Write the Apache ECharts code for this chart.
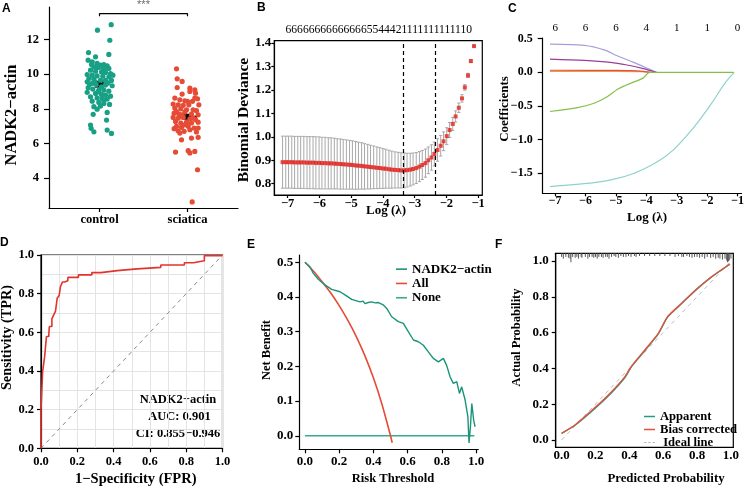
<!DOCTYPE html>
<html><head><meta charset="utf-8">
<script src="https://cdn.jsdelivr.net/npm/echarts@6/dist/echarts.min.js"></script>
<style>html,body{margin:0;padding:0;background:#fff}#c{width:747px;height:487px}</style>
</head><body><div id="c"></div>
<script>
// ---------------- Panel A data ----------------
const groupNames = ['control', 'sciatica'];
const controlValues = [12.86,12.54,11.96,11.25,11.14,11.0,10.81,10.71,10.62,10.56,10.52,10.48,10.42,10.39,10.37,10.33,10.23,10.17,10.13,10.1,10.04,9.98,9.94,9.9,9.88,9.84,9.94,9.75,9.71,9.65,9.64,9.64,9.56,9.46,9.41,9.37,9.33,9.21,9.14,9.08,9.08,9.02,8.95,8.89,8.83,8.79,8.73,8.69,8.63,8.6,8.56,8.44,8.37,8.31,8.25,8.12,8.16,7.98,7.79,7.68,7.35,7.06,6.87,6.77,6.67,6.58,9.41,9.27,9.56,9.5,10.33,10.56,8.98,8.5];
const controlJitter = [0.133,-0.023,0.117,-0.125,0.106,-0.045,-0.129,-0.083,-0.027,0.049,0.011,0.087,-0.064,-0.015,0.068,0.106,-0.102,-0.045,0.023,0.068,0.125,-0.14,-0.083,-0.027,0.038,0.106,0.152,-0.121,-0.064,0.011,0.068,0.136,-0.14,-0.091,-0.038,0.068,0.144,-0.129,-0.076,-0.008,0.049,0.106,-0.14,-0.045,0.023,0.068,0.125,-0.102,-0.027,0.03,0.087,-0.083,-0.008,0.049,0.114,-0.064,0.011,-0.027,0.087,-0.072,0.08,-0.102,-0.095,0.087,-0.064,0.136,-0.114,0.023,-0.053,0.098,0.038,-0.091,-0.015,0.049];
const sciaticaValues = [10.31,9.73,9.58,9.23,9.19,9.1,8.85,9.0,8.9,8.62,8.52,8.46,8.43,8.58,8.27,8.23,8.2,8.23,8.23,8.04,8.0,7.94,7.94,7.89,7.75,7.7,7.81,7.7,7.65,7.5,7.46,7.5,7.42,7.37,7.27,7.18,7.23,7.18,7.23,6.99,6.93,6.99,6.89,6.89,6.73,6.7,6.79,6.66,6.6,6.31,6.35,6.21,5.5,5.58,5.45,5.54,4.48,2.62,7.84,8.43,7.65,7.46,7.08,6.85,8.62];
const sciaticaJitter = [-0.125,-0.117,-0.061,-0.117,0.027,0.083,-0.061,0.027,0.091,-0.144,-0.087,-0.03,0.057,0.114,-0.163,-0.106,-0.049,0.015,0.129,-0.144,-0.076,-0.011,0.064,0.102,-0.152,-0.098,-0.03,0.045,0.121,-0.163,-0.106,-0.049,0.027,0.091,-0.136,-0.076,-0.011,0.045,0.121,-0.125,-0.068,0.008,0.076,0.121,-0.106,-0.038,0.027,0.102,-0.087,0.045,0.121,-0.068,-0.136,0.008,0.027,0.083,0.114,0.053,-0.125,0,-0.068,0.064,-0.03,-0.152,0.083];
const groupMeans = [9.42, 7.54];
const groupSE = [0.14, 0.12];
const aYTicks = [4, 6, 8, 10, 12];
const bracketY = [13.34, 13.5];
const sigLabel = '***';

// ---------------- Panel B data ----------------
const logLambda = [-7.16,-7.06,-6.97,-6.87,-6.78,-6.68,-6.59,-6.49,-6.39,-6.30,-6.20,-6.11,-6.01,-5.92,-5.82,-5.72,-5.63,-5.53,-5.44,-5.34,-5.25,-5.15,-5.05,-4.96,-4.86,-4.77,-4.67,-4.58,-4.48,-4.39,-4.29,-4.19,-4.10,-4.00,-3.91,-3.81,-3.72,-3.62,-3.52,-3.43,-3.33,-3.24,-3.14,-3.05,-2.95,-2.85,-2.76,-2.66,-2.57,-2.47,-2.38,-2.28,-2.18,-2.09,-1.99,-1.90,-1.80,-1.71,-1.61,-1.51,-1.42,-1.32,-1.23,-1.13];
const devMean = [0.892,0.892,0.892,0.892,0.891,0.891,0.891,0.891,0.890,0.890,0.890,0.889,0.889,0.888,0.888,0.887,0.887,0.886,0.885,0.884,0.883,0.882,0.881,0.880,0.878,0.877,0.876,0.874,0.873,0.871,0.870,0.868,0.867,0.865,0.864,0.862,0.860,0.859,0.858,0.857,0.857,0.858,0.860,0.863,0.867,0.873,0.880,0.888,0.900,0.912,0.927,0.944,0.962,0.981,1.003,1.029,1.055,1.087,1.124,1.164,1.211,1.262,1.323,1.387];
const devSE = [0.111,0.111,0.111,0.111,0.111,0.111,0.111,0.111,0.111,0.111,0.111,0.111,0.111,0.110,0.110,0.109,0.109,0.108,0.107,0.107,0.106,0.105,0.104,0.103,0.102,0.100,0.099,0.097,0.095,0.093,0.091,0.089,0.087,0.085,0.083,0.081,0.079,0.077,0.076,0.075,0.074,0.072,0.070,0.068,0.066,0.064,0.062,0.060,0.057,0.054,0.051,0.048,0.044,0.040,0.036,0.032,0.028,0.024,0.020,0.016,0.012,0.009,0.006,0.004];
const lambdaLines = [-3.36, -2.36];
const nzTopLabel = '666666666666665544421111111111110';
const bYTicks = [0.8, 0.9, 1.0, 1.1, 1.2, 1.3, 1.4];
const logTicks = [-7, -6, -5, -4, -3, -2, -1];

// ---------------- Panel C data ----------------
const cTopLabels = ['6', '6', '6', '4', '1', '1', '0'];
const cYTicks = [-1.5, -1.0, -0.5, 0.0, 0.5];
const lavX = [-7.17,-6.04,-5.39,-4.96,-4.42,-3.99,-3.67];
const lavY = [0.42,0.40,0.333,0.245,0.147,0.064,0.0];
const purX = [-7.17,-6.04,-5.18,-4.64,-4.10,-3.67];
const purY = [0.196,0.176,0.147,0.108,0.054,0.0];
const redX = [-7.17,-5.0,-4.5,-4.1,-3.8];
const redY = [0.03,0.028,0.025,0.015,0.0];
const oraX = [-7.17,-5.0,-4.2,-3.9];
const oraY = [0.015,0.014,0.01,0.0];
const grnX = [-7.17,-6.26,-5.72,-5.29,-4.96,-4.69,-4.42,-4.10,-3.89,-1.13];
const grnY = [-0.583,-0.525,-0.461,-0.363,-0.255,-0.196,-0.147,-0.083,0.0,0.0];
const cyaX = [-7.17,-5.72,-4.96,-4.42,-3.99,-3.56,-3.13,-2.70,-2.27,-1.84,-1.41,-1.11];
const cyaY = [-1.70,-1.642,-1.578,-1.505,-1.417,-1.309,-1.162,-0.956,-0.721,-0.451,-0.157,0.0];

// ---------------- Panel D data ----------------
const rocFPR = [0,0,0.009,0.02,0.03,0.043,0.046,0.06,0.07,0.08,0.089,0.1,0.107,0.118,0.13,0.148,0.206,0.28,0.33,0.42,0.53,0.66,0.79,0.84,0.9,1.0];
const rocTPR = [0,0.198,0.397,0.474,0.578,0.59,0.63,0.67,0.69,0.71,0.776,0.79,0.836,0.86,0.867,0.884,0.897,0.909,0.919,0.928,0.936,0.948,0.96,0.97,0.997,1.0];
const rocText = ['NADK2\u2212actin', 'AUC: 0.901', 'CI: 0.855\u22120.946'];
const unitTicks = [0, 0.2, 0.4, 0.6, 0.8, 1.0];

// ---------------- Panel E data ----------------
const eModelThr = [0,0.029,0.049,0.078,0.117,0.156,0.205,0.234,0.273,0.322,0.34,0.351,0.37,0.39,0.41,0.429,0.458,0.478,0.507,0.546,0.575,0.604,0.634,0.663,0.692,0.721,0.75,0.78,0.809,0.828,0.848,0.867,0.887,0.903,0.916,0.936,0.952,0.959,0.967,0.975,0.986,0.994];
const eModelNB = [0.5,0.487,0.468,0.451,0.435,0.422,0.415,0.406,0.393,0.386,0.388,0.381,0.384,0.386,0.383,0.384,0.377,0.367,0.343,0.329,0.324,0.300,0.276,0.271,0.261,0.242,0.223,0.213,0.223,0.203,0.17,0.151,0.156,0.122,0.141,0.103,0.055,-0.021,0.026,0.093,0.045,0.026];
const eAllThr = [0,0.05,0.1,0.15,0.2,0.25,0.3,0.35,0.4,0.45,0.5,0.51];
const eAllNB = [0.5,0.474,0.444,0.412,0.375,0.333,0.286,0.231,0.167,0.091,0.0,-0.02];
const eNoneThr = [0, 0.99];
const eNoneNB = [0, 0];
const eYTicks = [0.0, 0.1, 0.2, 0.3, 0.4, 0.5];
const eLegend = ['NADK2\u2212actin', 'All', 'None'];

// ---------------- Panel F data ----------------
const fPred = [0.0,0.079,0.197,0.295,0.374,0.413,0.492,0.571,0.626,0.709,0.787,0.886,0.994];
const fBias = [0.037,0.084,0.181,0.27,0.354,0.413,0.503,0.596,0.689,0.764,0.834,0.912,0.983];
const fApparent = [0.037,0.082,0.176,0.264,0.348,0.41,0.5,0.593,0.687,0.762,0.833,0.911,0.982];
const fIdealX = [0, 1];
const fIdealY = [0, 1];
const fRugX = [0.0,0.01,0.025,0.04,0.05,0.055,0.065,0.08,0.09,0.10,0.115,0.12,0.14,0.155,0.165,0.18,0.19,0.20,0.21,0.22,0.235,0.245,0.26,0.27,0.28,0.295,0.31,0.32,0.335,0.35,0.365,0.38,0.395,0.41,0.43,0.44,0.46,0.49,0.52,0.55,0.58,0.61,0.64,0.67,0.69,0.71,0.72,0.74,0.755,0.77,0.785,0.80,0.815,0.83,0.845,0.86,0.88,0.895,0.91,0.925,0.935,0.95,0.965,0.975,0.98,0.985,0.99,1.0];
const fRugLen = [0.02,0.03,0.02,0.025,0.03,0.05,0.02,0.025,0.02,0.03,0.02,0.025,0.02,0.03,0.02,0.02,0.025,0.02,0.03,0.02,0.02,0.025,0.02,0.02,0.03,0.02,0.015,0.02,0.025,0.015,0.02,0.02,0.015,0.02,0.015,0.02,0.015,0.015,0.015,0.015,0.015,0.015,0.015,0.02,0.015,0.02,0.02,0.015,0.02,0.025,0.02,0.02,0.025,0.02,0.03,0.02,0.025,0.02,0.03,0.025,0.03,0.035,0.03,0.04,0.05,0.045,0.04,0.03];
const fLegend = ['Apparent', 'Bias corrected', ' Ideal line'];

// ---------------- helpers ----------------
const SERIF = '"Liberation Serif","Times New Roman",serif';
const SANS = '"Liberation Sans",Arial,sans-serif';
const MINUS = '\u2212';
const fmt1 = v => v.toFixed(1).replace('-', MINUS);
const fmtInt = v => String(v).replace('-', MINUS);
const zip = (a, b) => a.map((v, i) => [v, b[i]]);

function vAxis(grid, min, max, ticks, fmt, o) {
  o = o || {};
  return {
    type: 'value', gridIndex: grid, min: min, max: max, position: o.position,
    splitLine: { show: false },
    axisLine: { show: o.line !== false, onZero: false, lineStyle: { color: '#000', width: 1.2 } },
    axisTick: { show: o.tick !== false, customValues: ticks, length: o.tickLen == null ? 4 : o.tickLen, lineStyle: { color: '#000', width: 1.2 } },
    axisLabel: { customValues: ticks, formatter: fmt, margin: o.margin == null ? 6 : o.margin, color: '#000',
      fontFamily: SERIF, fontWeight: o.weight || 'bold', fontSize: o.size || 13 }
  };
}
function txt(x, y, text, size, o) {
  o = o || {};
  const align = o.align || 'center';
  return { type: 'text', x: x, y: y, rotation: o.rot || 0, silent: true,
    style: { text: text, x: 0, y: 0, fill: o.color || '#000',
      font: (o.weight || 'bold') + ' ' + size + 'px ' + (o.family || SERIF),
      align: align, textAlign: align, verticalAlign: o.valign || 'middle', textVerticalAlign: o.valign || 'middle' } };
}
const dAxis = (pos) => ({
  type: 'value', gridIndex: 3, min: 0, max: 1, interval: 0.2, position: pos,
  splitLine: { show: true, lineStyle: { color: '#e4e4e4', width: 1 } },
  minorTick: { show: false, splitNumber: 2 },
  minorSplitLine: { show: true, lineStyle: { color: '#e4e4e4', width: 1 } },
  axisLine: { show: true, onZero: false, lineStyle: { color: '#000', width: 1.2 } },
  axisTick: { show: true, length: 4, lineStyle: { color: '#000', width: 1.2 } },
  axisLabel: { formatter: fmt1, margin: 7, color: '#000', fontFamily: SERIF, fontWeight: 'bold', fontSize: 12.5 }
});

const grids = [
  { left: 49, top: 7, width: 189, height: 201 },
  { left: 274.3, top: 40.7, width: 208, height: 154.3, show: true, borderColor: '#000', borderWidth: 1.2 },
  { left: 542.7, top: 38, width: 202.3, height: 155.3 },
  { left: 41, top: 255, width: 181.5, height: 193.3, show: true, borderColor: '#000', borderWidth: 1.2 },
  { left: 299.3, top: 255, width: 179, height: 194.3 },
  { left: 555.7, top: 253.3, width: 177.6, height: 194, show: true, borderColor: '#000', borderWidth: 1.2 }
];
// x axes: 0 A, 1 B, 2 C bottom, 3 C top, 4 D, 5 E, 6 F
const xAxes = [
  vAxis(0, 0.426, 2.574, [1, 2], v => groupNames[Math.round(v) - 1], { margin: 5, size: 12.6, position: 'bottom' }),
  vAxis(1, -7.42, -0.87, logTicks, fmtInt, { margin: 2, tickLen: 3, size: 12.5, position: 'bottom' }),
  vAxis(2, -7.41, -0.87, logTicks, fmtInt, { margin: 2, tickLen: 3, size: 12, position: 'bottom' }),
  vAxis(2, -7.41, -0.87, logTicks, v => cTopLabels[Math.round(v) + 7], { position: 'top', line: false, tick: false, margin: 4, weight: 'normal', size: 11 }),
  dAxis('bottom'),
  vAxis(4, -0.033, 1.013, unitTicks, fmt1, { margin: 6, size: 13, position: 'bottom' }),
  vAxis(5, -0.035, 1.014, unitTicks, fmt1, { margin: 2, tickLen: 0, size: 13, position: 'bottom' })
];
// y axes: 0 A, 1 B, 2 C, 3 D, 4 E, 5 F
const yAxes = [
  vAxis(0, 2.27, 13.88, aYTicks, v => String(v), { margin: 10, tickLen: 5, size: 12.5, position: 'left' }),
  vAxis(1, 0.752, 1.41, bYTicks, fmt1, { margin: 3, tickLen: 3, size: 13, position: 'left' }),
  vAxis(2, -1.80, 0.51, cYTicks, fmt1, { margin: 10, tickLen: 5, size: 12, position: 'left' }),
  dAxis('left'),
  vAxis(4, -0.039, 0.521, eYTicks, fmt1, { margin: 6, tickLen: 4, size: 13, position: 'left' }),
  vAxis(5, -0.041, 1.043, unitTicks, fmt1, { margin: 7, tickLen: 4, size: 13, position: 'left' })
];

const lineS = (name, xi, yi, data, color, width, extra) => Object.assign({
  type: 'line', name: name, xAxisIndex: xi, yAxisIndex: yi, data: data, symbol: 'none', showSymbol: false,
  lineStyle: { color: color, width: width }, itemStyle: { color: color }, silent: true
}, extra || {});

const series = [
  // ---- A ----
  { type: 'scatter', xAxisIndex: 0, yAxisIndex: 0, symbolSize: 5.2, itemStyle: { color: '#17a085', opacity: 1 },
    data: controlValues.map((v, i) => [1 + controlJitter[i], v]), silent: true },
  { type: 'scatter', xAxisIndex: 0, yAxisIndex: 0, symbolSize: 5.2, itemStyle: { color: '#e64b35', opacity: 1 },
    data: sciaticaValues.map((v, i) => [2 + sciaticaJitter[i], v]), silent: true },
  { type: 'custom', xAxisIndex: 0, yAxisIndex: 0, silent: true,
    data: groupMeans.map((m, i) => [i + 1, m, groupSE[i]]),
    renderItem: function (p, api) {
      const x = api.value(0), m = api.value(1), s = api.value(2);
      const c = api.coord([x, m]), t = api.coord([x, m + s]), b = api.coord([x, m - s]);
      return { type: 'group', children: [
        { type: 'line', shape: { x1: c[0] - 9.5, y1: c[1], x2: c[0] + 9.5, y2: c[1] }, style: { stroke: '#000', lineWidth: 2.2 } },
        { type: 'line', shape: { x1: t[0], y1: t[1], x2: b[0], y2: b[1] }, style: { stroke: '#000', lineWidth: 2 } },
        { type: 'line', shape: { x1: t[0] - 4.5, y1: t[1], x2: t[0] + 4.5, y2: t[1] }, style: { stroke: '#000', lineWidth: 2 } },
        { type: 'line', shape: { x1: b[0] - 4.5, y1: b[1], x2: b[0] + 4.5, y2: b[1] }, style: { stroke: '#000', lineWidth: 2 } }
      ] };
    } },
  lineS('bracket', 0, 0, [[1, bracketY[0]], [1, bracketY[1]], [2, bracketY[1]], [2, bracketY[0]]], '#000', 1.2),
  { type: 'scatter', xAxisIndex: 0, yAxisIndex: 0, symbolSize: 0, silent: true, data: [[1.5, bracketY[1]]],
    label: { show: true, position: 'top', distance: 3, formatter: sigLabel, color: '#444', fontFamily: SANS, fontSize: 11 } },
  // ---- B ----
  { type: 'custom', xAxisIndex: 1, yAxisIndex: 1, silent: true,
    data: logLambda.map((x, i) => [x, devMean[i], devSE[i]]),
    renderItem: function (p, api) {
      const x = api.value(0), m = api.value(1), s = api.value(2);
      const t = api.coord([x, m + s]), b = api.coord([x, m - s]);
      return { type: 'group', children: [
        { type: 'line', shape: { x1: t[0], y1: t[1], x2: b[0], y2: b[1] }, style: { stroke: '#a8a8a8', lineWidth: 1 } },
        { type: 'line', shape: { x1: t[0] - 1.6, y1: t[1], x2: t[0] + 1.6, y2: t[1] }, style: { stroke: '#a8a8a8', lineWidth: 1 } },
        { type: 'line', shape: { x1: b[0] - 1.6, y1: b[1], x2: b[0] + 1.6, y2: b[1] }, style: { stroke: '#a8a8a8', lineWidth: 1 } }
      ] };
    } },
  { type: 'scatter', xAxisIndex: 1, yAxisIndex: 1, symbol: 'rect', symbolSize: 4, silent: true,
    itemStyle: { color: '#e3201b' }, data: zip(logLambda, devMean),
    markLine: { symbol: 'none', silent: true, label: { show: false },
      lineStyle: { type: [4, 3], color: '#000', width: 1.2 },
      data: lambdaLines.map(v => ({ xAxis: v })) } },
  // ---- C ----
  lineS('c1', 2, 2, zip(lavX, lavY), '#a49fdf', 1.2, { smooth: 0.3 }),
  lineS('c2', 2, 2, zip(purX, purY), '#9a3d9c', 1.2, { smooth: 0.3 }),
  lineS('c3', 2, 2, zip(oraX, oraY), '#e8a03c', 1.2, { smooth: 0.3 }),
  lineS('c4', 2, 2, zip(redX, redY), '#e2514c', 1.2, { smooth: 0.3 }),
  lineS('c6', 2, 2, zip(cyaX, cyaY), '#8fd2cc', 1.2, { smooth: 0.3 }),
  lineS('c5', 2, 2, zip(grnX, grnY), '#86c04c', 1.2, { smooth: 0.3 }),
  // ---- D ----
  lineS('diag', 4, 3, [[0, 0], [1, 1]], '#8a8a8a', 1, { lineStyle: { color: '#8a8a8a', width: 1, type: [4, 4] } }),
  lineS('ROC', 4, 3, zip(rocFPR, rocTPR), '#e2342d', 1.6, { step: 'end' }),
  // ---- E ----
  lineS(eLegend[2], 5, 4, zip(eNoneThr, eNoneNB), '#3aa893', 1.6),
  lineS(eLegend[1], 5, 4, zip(eAllThr, eAllNB), '#e64b35', 1.6, { smooth: 0.3 }),
  lineS(eLegend[0], 5, 4, zip(eModelThr, eModelNB), '#1a9479', 1.4),
  // ---- F ----
  { type: 'custom', xAxisIndex: 6, yAxisIndex: 5, silent: true,
    data: fRugX.map((x, i) => [x, fRugLen[i]]),
    renderItem: function (p, api) {
      const x = api.value(0), h = api.value(1);
      const t = api.coord([x, 1.043]), b = api.coord([x, 1.043 - h]);
      return { type: 'line', shape: { x1: t[0], y1: t[1], x2: b[0], y2: b[1] }, style: { stroke: '#555', lineWidth: 1 } };
    } },
  lineS(fLegend[2], 6, 5, zip(fIdealX, fIdealY), '#bdbdbd', 1, { lineStyle: { color: '#bdbdbd', width: 1, type: [4, 4] } }),
  lineS(fLegend[0], 6, 5, zip(fPred, fApparent), '#1f9c84', 1.4, { smooth: 0.2 }),
  lineS(fLegend[1], 6, 5, zip(fPred, fBias), '#e4503a', 1.4, { smooth: 0.2 })
];

const graphics = [
  txt(2, 3, 'A', 12, { family: SANS, align: 'left', valign: 'top' }),
  txt(257, 2, 'B', 12, { family: SANS, align: 'left', valign: 'top' }),
  txt(508, 3, 'C', 12, { family: SANS, align: 'left', valign: 'top' }),
  txt(0, 237, 'D', 12, { family: SANS, align: 'left', valign: 'top' }),
  txt(247, 239, 'E', 12, { family: SANS, align: 'left', valign: 'top' }),
  txt(495, 239, 'F', 12, { family: SANS, align: 'left', valign: 'top' }),
  txt(12, 115, 'NADK2\u2212actin', 16.5, { rot: Math.PI / 2 }),
  txt(244, 120, 'Binomial Deviance', 15.5, { rot: Math.PI / 2 }),
  txt(386, 211, 'Log (\u03bb)', 13),
  txt(378.8, 30, nzTopLabel, 11.6, { weight: 'normal' }),
  txt(505, 109, 'Coefficients', 13, { rot: Math.PI / 2 }),
  txt(647, 217.5, 'Log (\u03bb)', 13),
  txt(7, 337.5, 'Sensitivity (TPR)', 14.3, { rot: Math.PI / 2 }),
  txt(135.8, 479, '1\u2212Specificity (FPR)', 14.5),
  txt(178, 399.3, rocText[0], 12.5),
  txt(179.5, 416.7, rocText[1], 12.5),
  txt(178, 433.3, rocText[2], 12.5),
  txt(266.7, 350, 'Net Benefit', 12.5, { rot: Math.PI / 2 }),
  txt(393, 478.7, 'Risk Threshold', 12.6),
  txt(517, 337.5, 'Actual Probability', 12.4, { rot: Math.PI / 2 }),
  txt(666, 479, 'Predicted Probability', 12.8)
];

const legendText = { fontFamily: SERIF, fontWeight: 'bold', color: '#000' };
const DASH_ICON = 'path://M0,0H3V1H0Z M5,0H8V1H5Z M10,0H13V1H10Z';
const chart = echarts.init(document.getElementById('c'), null, { renderer: 'canvas' });
chart.setOption({
  animation: false,
  backgroundColor: '#fff',
  grid: grids,
  xAxis: xAxes,
  yAxis: yAxes,
  legend: [
    { data: eLegend, left: 391, top: 257, orient: 'vertical', icon: 'rect', itemWidth: 11, itemHeight: 1.6, itemGap: 0,
      selectedMode: false, textStyle: Object.assign({ fontSize: 13, lineHeight: 14.3 }, legendText) },
    { data: [fLegend[0], fLegend[1], { name: fLegend[2], icon: DASH_ICON }], left: 639, top: 405, orient: 'vertical',
      icon: 'rect', itemWidth: 11, itemHeight: 1.5, itemGap: 0,
      selectedMode: false, textStyle: Object.assign({ fontSize: 12.6, lineHeight: 11.7 }, legendText) }
  ],
  graphic: graphics,
  series: series
});
</script></body></html>
